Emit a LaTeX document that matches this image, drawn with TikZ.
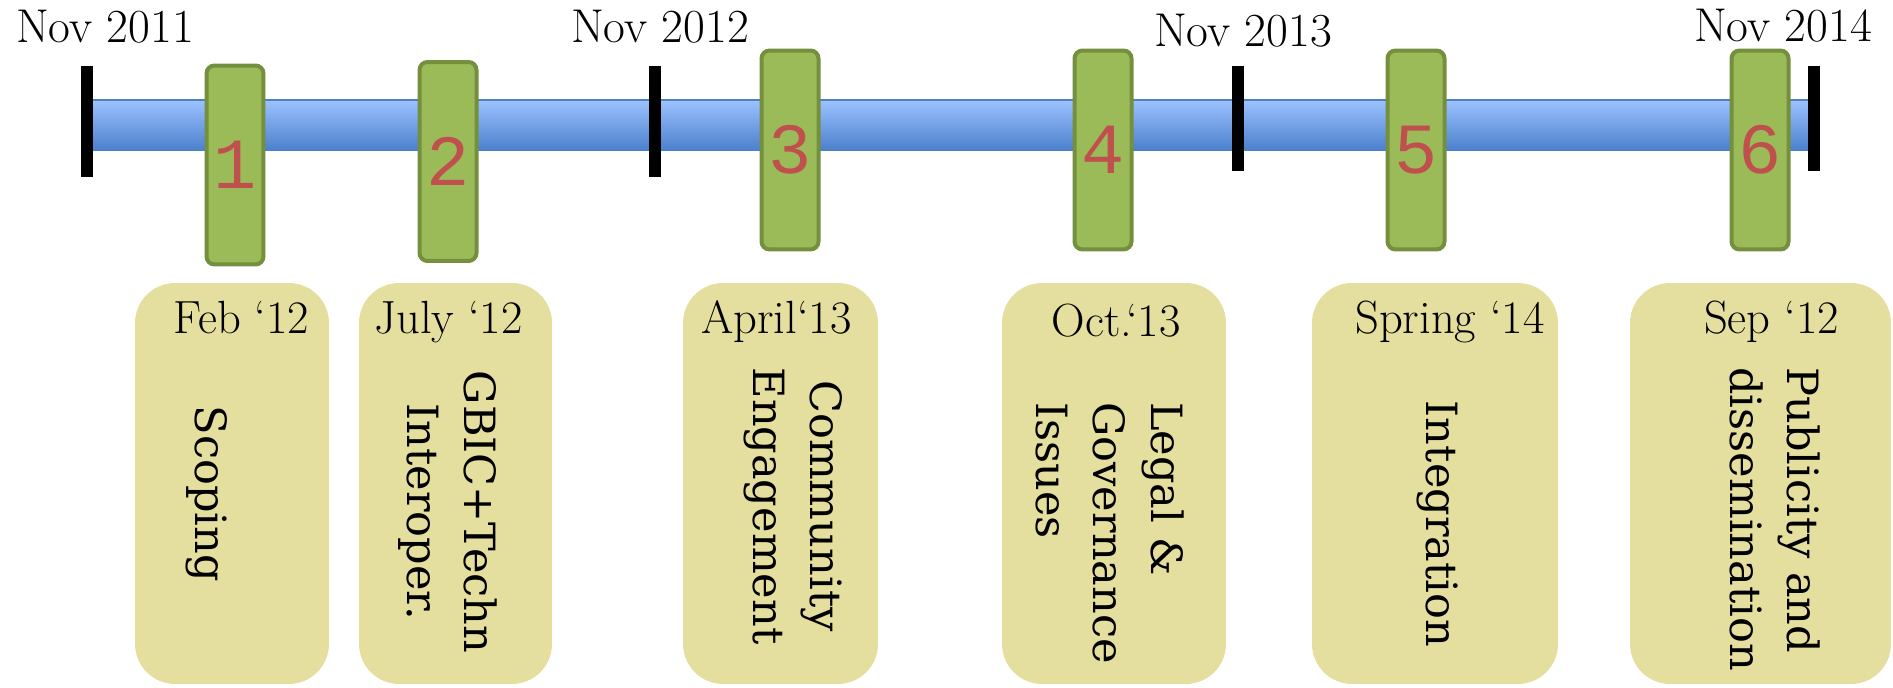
\documentclass[tikz,border=0pt]{standalone}
\usepackage{fontspec}
\usepackage{xcolor}
\usepackage{tikz}
\usetikzlibrary{calc}
\newfontfamily\topicfont{DejaVu Serif}
\newfontfamily\numfont{Liberation Mono}
\definecolor{bartop}{HTML}{9CC2FF}
\definecolor{barbot}{HTML}{4A7FCB}
\definecolor{baredge}{HTML}{4F81BD}
\definecolor{stagefill}{HTML}{9BBB59}
\definecolor{stageedge}{HTML}{748F3E}
\definecolor{numred}{HTML}{C0504D}
\definecolor{cardfill}{HTML}{E4DF9E}
\tikzset{
  yearmark/.style={fill=black, inner sep=0pt, minimum width=0.24cm},
  stage/.style={draw=stageedge, fill=stagefill, line width=0.08cm, rounded corners=0.16cm,
    minimum width=1.14cm, minimum height=3.98cm, inner sep=0pt, text=numred,
    font=\numfont\fontsize{41}{41}\selectfont},
  card/.style={fill=cardfill, rounded corners=0.8cm, minimum height=8.02cm, inner sep=0pt},
  yearlab/.style={anchor=base, inner sep=0pt, font=\fontsize{27}{30}\selectfont},
  datelab/.style={anchor=base, inner sep=0pt, font=\fontsize{26.5}{30}\selectfont},
  topic/.style={rotate=-90, inner sep=0pt, font=\topicfont\fontsize{24.5}{32.5}\selectfont},
}

\begin{document}
\begin{tikzpicture}[x=0.02cm, y=-0.02cm]
  \useasboundingbox (0,0) rectangle (1893,688);

  % time bar
  \shade[top color=bartop, bottom color=barbot] (87,100) rectangle (1814,151);
  \draw[baredge, line width=0.03cm] (87,100) -- (1814,100);

  \node[yearmark, minimum height=2.22cm] (m1) at (87,121.5) {};
  \node[yearmark, minimum height=2.22cm] (m2) at (654.5,121.5) {};
  \node[yearmark, minimum height=2.1cm] (m3) at (1238,118.5) {};
  \node[yearmark, minimum height=2.1cm] (m4) at (1814,118.5) {};

  \node[yearlab] (y1) at (105,43) {Nov 2011};
  \node[yearlab] (y2) at (660,43) {Nov 2012};
  \node[yearlab] (y3) at (1243,47) {Nov 2013};
  \node[yearlab] (y4) at (1783,42) {Nov 2014};

  % stages on the bar
  \node[stage] (s1) at (235,165) {1};
  \node[stage] (s2) at (448,161.5) {2};
  \node[stage] (s3) at (790,150) {3};
  \node[stage] (s4) at (1103,150) {4};
  \node[stage] (s5) at (1416,150) {5};
  \node[stage] (s6) at (1760,150) {6};

  % cards below
  \node[card, minimum width=3.88cm] (c1) at (232,483.5) {};
  \node[card, minimum width=3.86cm] (c2) at (455.5,483.5) {};
  \node[card, minimum width=3.9cm] (c3) at (780.5,483.5) {};
  \node[card, minimum width=4.48cm] (c4) at (1114,483.5) {};
  \node[card, minimum width=4.92cm] (c5) at (1435,483.5) {};
  \node[card, minimum width=5.22cm] (c6) at (1760.5,483.5) {};

  \node[datelab] (d1) at (241.5,334) {Feb `12};
  \node[datelab] (d2) at (448.5,334) {July `12};
  \node[datelab] (d3) at (776.5,334) {April`13};
  \node[datelab] (d4) at (1116,337) {Oct.`13};
  \node[datelab] (d5) at (1450,334) {Spring `14};
  \node[datelab] (d6) at (1771.5,334) {Sep `12};

  \node[topic] (t1) at (207,494) {Scoping};
  \node[topic, align=center] (t2) at (448,512) {GBIC+Techn\\Interoper.};
  \node[topic, align=center] (t3) at (793,506) {Community\\Engagement};
  \node[topic, align=left, anchor=west] (t4) at (1110,402) {Legal \&\\Governance\\Issues};
  \node[topic] (t5) at (1438,524) {Integration};
  \node[topic, align=left, anchor=west] (t6) at (1775,367) {Publicity and\\dissemination};
\end{tikzpicture}
\end{document}
